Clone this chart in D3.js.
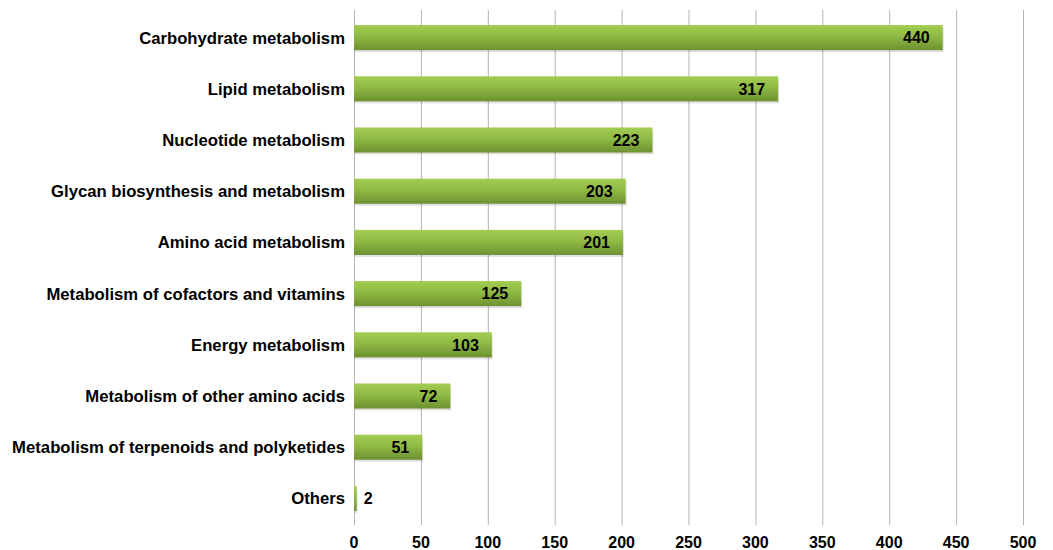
<!DOCTYPE html>
<html>
<head>
<meta charset="utf-8">
<script src="https://cdn.jsdelivr.net/npm/d3@7"></script>
<style>
  body { margin: 0; background: #fff; }
  text { font-family: "Liberation Sans", Arial, sans-serif; font-weight: bold; fill: #000; }
</style>
</head>
<body>
<div id="chart-area"></div>
<script>
// categories, top to bottom
var categories = [
    "Carbohydrate metabolism",
    "Lipid metabolism",
    "Nucleotide metabolism",
    "Glycan biosynthesis and metabolism",
    "Amino acid metabolism",
    "Metabolism of cofactors and vitamins",
    "Energy metabolism",
    "Metabolism of other amino acids",
    "Metabolism of terpenoids and polyketides",
    "Others"
];
var counts = [440, 317, 223, 203, 201, 125, 103, 72, 51, 2];
var xTicks = [0, 50, 100, 150, 200, 250, 300, 350, 400, 450, 500];

var width = 1053, height = 550;
var margin = { top: 12, right: 30, bottom: 26, left: 354 };

var svg = d3.select("#chart-area").append("svg")
    .attr("width", width)
    .attr("height", height);

var defs = svg.append("defs");
var grad = defs.append("linearGradient")
    .attr("id", "barGrad")
    .attr("x1", 0).attr("y1", 0).attr("x2", 0).attr("y2", 1);
grad.append("stop").attr("offset", "0%").attr("stop-color", "#a3cc52");
grad.append("stop").attr("offset", "45%").attr("stop-color", "#8fba44");
grad.append("stop").attr("offset", "100%").attr("stop-color", "#6e9131");

var x = d3.scaleLinear()
    .domain([0, 500])
    .range([margin.left, 1023]);

var y = d3.scaleBand()
    .domain(categories)
    .range([margin.top, height - margin.bottom])
    .paddingInner(0.51)
    .paddingOuter(0.255);

// gridlines
svg.append("g")
    .selectAll("line")
    .data(xTicks)
    .enter()
    .append("line")
        .attr("x1", d => x(d) + 0.5)
        .attr("x2", d => x(d) + 0.5)
        .attr("y1", 10)
        .attr("y2", 525)
        .attr("stroke", "#b3b3b3")
        .attr("stroke-width", 1);

var data = categories.map((c, i) => ({ name: c, value: counts[i] }));

// soft shadow under each bar
svg.append("g")
    .selectAll("rect")
    .data(data)
    .enter()
    .append("rect")
        .attr("x", x(0) + 1)
        .attr("y", d => y(d.name) + 2)
        .attr("width", d => x(d.value) - x(0))
        .attr("height", y.bandwidth())
        .attr("fill", "#000")
        .attr("opacity", 0.12);

svg.append("g")
    .selectAll("rect")
    .data(data)
    .enter()
    .append("rect")
        .attr("x", x(0))
        .attr("y", d => y(d.name))
        .attr("width", d => x(d.value) - x(0))
        .attr("height", y.bandwidth())
        .attr("fill", "url(#barGrad)");

// value labels
svg.append("g")
    .selectAll("text")
    .data(data)
    .enter()
    .append("text")
        .attr("x", d => d.value < 20 ? x(d.value) + 7 : x(d.value) - 13)
        .attr("y", d => y(d.name) + y.bandwidth() / 2)
        .attr("dy", "0.36em")
        .attr("text-anchor", d => d.value < 20 ? "start" : "end")
        .style("font-size", "16px")
        .text(d => d.value);

// category labels
svg.append("g")
    .selectAll("text")
    .data(categories)
    .enter()
    .append("text")
        .attr("x", 345)
        .attr("y", d => y(d) + y.bandwidth() / 2)
        .attr("dy", "0.36em")
        .attr("text-anchor", "end")
        .style("font-size", "16.7px")
        .text(d => d);

// x tick labels
svg.append("g")
    .selectAll("text")
    .data(xTicks)
    .enter()
    .append("text")
        .attr("x", d => x(d))
        .attr("y", 548)
        .attr("text-anchor", "middle")
        .style("font-size", "16px")
        .text(d => d);
</script>
</body>
</html>
